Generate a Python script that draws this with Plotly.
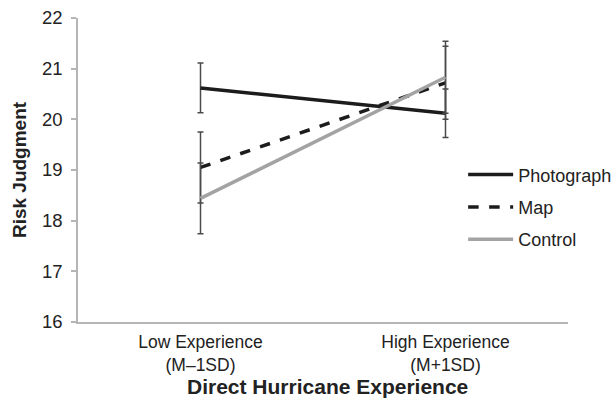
import plotly.graph_objects as go

categories = ["Low Experience<br>(M–1SD)", "High Experience<br>(M+1SD)"]
series_names = ["Photograph", "Map", "Control"]
photograph = [20.62, 20.12]
photograph_err = [0.49, 0.48]
map_vals = [19.05, 20.72]
map_err = [0.70, 0.72]
control = [18.44, 20.83]
control_err = [0.70, 0.71]
y_ticks = [16, 17, 18, 19, 20, 21, 22]
x_title = "Direct Hurricane Experience"
y_title = "Risk Judgment"

FONT = "Liberation Sans, Arial, sans-serif"
styles = {
    "Photograph": dict(color="#1c1c1c", dash="solid"),
    "Map": dict(color="#1c1c1c", dash="dash"),
    "Control": dict(color="#a3a3a3", dash="solid"),
}
data = {"Photograph": (photograph, photograph_err),
        "Map": (map_vals, map_err),
        "Control": (control, control_err)}

fig = go.Figure()
for name in series_names:
    vals, err = data[name]
    st = styles[name]
    fig.add_trace(go.Scatter(
        x=categories, y=vals, name=name, mode="lines",
        legendgroup=name,
        line=dict(color=st["color"], width=3.5, dash=st["dash"]),
        error_y=dict(type="data", array=err, visible=True,
                     color="#4a4a4a", thickness=1.5, width=3),
    ))

fig.update_layout(
    width=612, height=401,
    margin=dict(l=78, r=44, t=18, b=79, autoexpand=False),
    paper_bgcolor="white", plot_bgcolor="white",
    font=dict(family=FONT, size=18, color="#222"),
    legend=dict(x=0.786, y=0.545, xanchor="left", yanchor="top",
                font=dict(size=18, color="#222"),
                itemwidth=45, tracegroupgap=6,
                bgcolor="rgba(0,0,0,0)"),
    showlegend=True,
    annotations=[dict(text="<b>" + x_title + "</b>", xref="paper", yref="paper",
                      x=0.51, y=-0.212, xanchor="center", yanchor="middle",
                      showarrow=False, font=dict(size=21, color="#222"))],
)
fig.update_xaxes(
    range=[-0.5, 1.5], showline=True, linecolor="#b5b5b5", linewidth=1.5,
    showgrid=False, ticks="", zeroline=False, automargin=False,
    tickfont=dict(size=17.5, color="#222"), ticklabelstandoff=3,
)
fig.update_yaxes(
    range=[16, 22], tickvals=y_ticks, showline=True, linecolor="#b5b5b5",
    linewidth=1.5, showgrid=False, ticks="outside", ticklen=5,
    tickcolor="#b5b5b5", tickwidth=1.5, zeroline=False, automargin=False,
    tickfont=dict(size=18.5, color="#222"), ticklabelstandoff=5,
    title=dict(text="<b>" + y_title + "</b>",
               font=dict(size=19, color="#222"), standoff=10),
)

fig.write_html("out.html", config={"displayModeBar": False},
               post_script="document.body.style.margin='0';document.body.style.overflow='hidden';")
